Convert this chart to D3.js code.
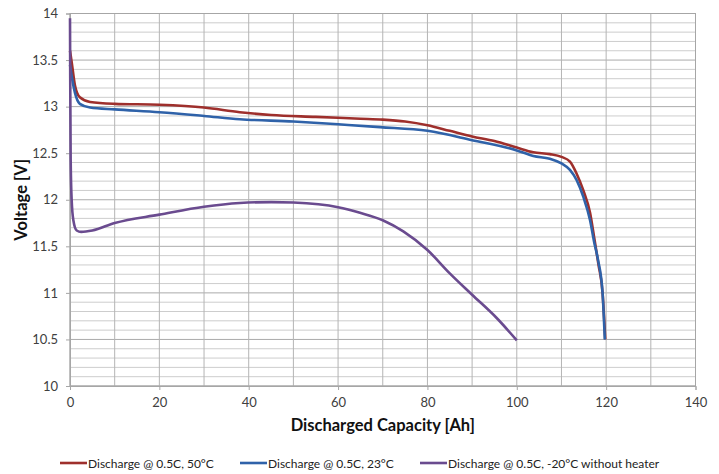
<!DOCTYPE html>
<html>
<head>
<meta charset="utf-8">
<script src="https://cdn.jsdelivr.net/npm/d3@7"></script>
<style>
  body { margin: 0; background: #fff; }
  text { font-family: Lato, "Open Sans", sans-serif; }
</style>
</head>
<body>
<svg width="719" height="474"></svg>
<script>
// series: [capacity Ah, voltage V]
var hot50 = [[0,13.6],[0.4,13.47],[1.1,13.23],[2.2,13.1],[4.5,13.05],[10,13.03],[20,13.02],[30,12.99],
  [38,12.94],[45,12.91],[55,12.89],[65,12.87],[70,12.86],[75,12.84],[80,12.8],[85,12.74],[90,12.68],
  [95,12.63],[100,12.56],[103.7,12.51],[107.4,12.49],[110,12.46],[111.9,12.41],[113.4,12.28],
  [114.9,12.1],[116.4,11.86],[117.3,11.6],[118.3,11.3],[119.2,11.0],[119.8,10.5]];
var room23 = [[0,13.45],[0.4,13.32],[1.1,13.15],[2.2,13.03],[4.5,12.99],[10,12.97],[20,12.94],[30,12.9],
  [38,12.865],[50,12.84],[60,12.81],[69.4,12.78],[80,12.74],[90,12.64],[100,12.53],[103.7,12.47],
  [107.4,12.44],[110,12.39],[111.9,12.32],[113.4,12.21],[114.9,12.03],[116.4,11.78],[117.3,11.55],
  [118.2,11.35],[119.2,11.0],[119.7,10.5]];
var cold20 = [[0,13.95],[0.05,13.3],[0.15,12.43],[0.37,12.0],[0.75,11.78],[1.5,11.67],[2.5,11.655],
  [5,11.67],[10,11.75],[20,11.84],[30,11.925],[38,11.965],[45,11.975],[50,11.97],[60,11.92],
  [64.9,11.86],[70,11.78],[74.6,11.66],[80,11.46],[85,11.21],[90,10.98],[95.5,10.73],[100,10.49]];

var seriesNames = ["Discharge @ 0.5C, 50°C", "Discharge @ 0.5C, 23°C", "Discharge @ 0.5C, -20°C without heater"];
var seriesColors = ["#9e2f2c", "#2f62a9", "#6a4b8f"];
var xTicks = [0, 20, 40, 60, 80, 100, 120, 140];
var yTicks = [10, 10.5, 11, 11.5, 12, 12.5, 13, 13.5, 14];
var xGrid = d3.range(0, 141, 10);
var yGrid = d3.range(100, 141).map(v => v / 10);

var svg = d3.select("svg");
var plotLeft = 70, plotRight = 695.5, plotTop = 13.5, plotBottom = 386;

var x = d3.scaleLinear().domain([0, 140]).range([plotLeft, plotRight]);
var y = d3.scaleLinear().domain([10, 14]).range([plotBottom, plotTop]);

// horizontal grid every 0.1 V (darker every 0.5 V)
svg.selectAll("line").data(yGrid).enter().append("line")
  .attr("x1", plotLeft).attr("x2", plotRight)
  .attr("y1", d => y(d)).attr("y2", d => y(d))
  .attr("stroke", d => Math.abs(d * 2 - Math.round(d * 2)) < 1e-6 ? "#ababab" : "#cdcdcd")
  .attr("stroke-width", 1);

// vertical grid every 10 Ah
var vGrid = svg.append("g");
xGrid.forEach(v => {
  vGrid.append("line")
    .attr("x1", x(v)).attr("x2", x(v))
    .attr("y1", plotTop).attr("y2", plotBottom)
    .attr("stroke", "#b4b4b4").attr("stroke-width", 1);
});

svg.append("rect")
  .attr("x", plotLeft).attr("y", plotTop)
  .attr("width", plotRight - plotLeft).attr("height", plotBottom - plotTop)
  .attr("fill", "none").attr("stroke", "#a6a6a6");

// axes
var yAxis = svg.append("g")
  .attr("transform", `translate(${plotLeft},0)`)
  .call(d3.axisLeft(y).tickValues(yTicks).tickFormat(d3.format("")).tickSize(4).tickPadding(8));
var xAxis = svg.append("g")
  .attr("transform", `translate(0,${plotBottom})`)
  .call(d3.axisBottom(x).tickValues(xTicks).tickSize(4).tickPadding(8));
[yAxis, xAxis].forEach(a => {
  a.select(".domain").attr("stroke", "#a6a6a6");
  a.selectAll(".tick line").attr("stroke", "#a6a6a6");
  a.selectAll(".tick text").attr("fill", "#404040").attr("font-size", "13px")
    .style("font-family", "Lato, sans-serif");
});

// axis titles
svg.append("text")
  .attr("x", (plotLeft + plotRight) / 2).attr("y", 431)
  .attr("text-anchor", "middle")
  .attr("font-size", "16.5px").attr("font-weight", "bold").attr("fill", "#111")
  .text("Discharged Capacity [Ah]");
svg.append("text")
  .attr("transform", "rotate(-90)")
  .attr("x", -(plotTop + plotBottom) / 2).attr("y", 27)
  .attr("text-anchor", "middle")
  .attr("font-size", "16.5px").attr("font-weight", "bold").attr("fill", "#111")
  .text("Voltage [V]");

// curves
var line = d3.line().x(d => x(d[0])).y(d => y(d[1])).curve(d3.curveMonotoneX);
[hot50, room23, cold20].forEach((s, i) => {
  svg.append("path")
    .datum(s)
    .attr("d", line)
    .attr("fill", "none")
    .attr("stroke", seriesColors[i])
    .attr("stroke-width", 2.6)
    .attr("stroke-linejoin", "round");
});

// legend
var legendX = [60, 240, 420];
var legend = svg.append("g");
seriesNames.forEach((name, i) => {
  legend.append("line")
    .attr("x1", legendX[i]).attr("x2", legendX[i] + 27)
    .attr("y1", 463).attr("y2", 463)
    .attr("stroke", seriesColors[i]).attr("stroke-width", 2.6);
  legend.append("text")
    .attr("x", legendX[i] + 28).attr("y", 467.5)
    .attr("font-size", "12px").attr("fill", "#222")
    .text(name);
});
</script>
</body>
</html>
